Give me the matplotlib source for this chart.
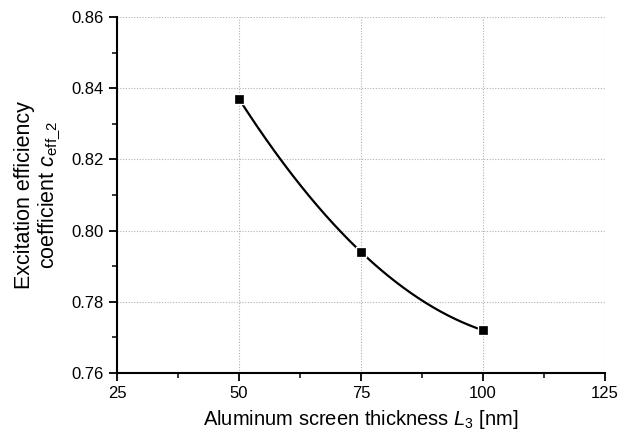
import numpy as np
import matplotlib
matplotlib.use("Agg")
import matplotlib.pyplot as plt
from matplotlib.ticker import MultipleLocator

plt.rcParams['font.family'] = ['Liberation Sans', 'DejaVu Sans']
plt.rcParams['mathtext.fontset'] = 'custom'
plt.rcParams['mathtext.rm'] = 'Liberation Sans'
plt.rcParams['mathtext.it'] = 'Liberation Sans:italic'

thickness = [50, 75, 100]
coeff = [0.837, 0.794, 0.772]
x_ticks = [25, 50, 75, 100, 125]
y_ticks = [0.76, 0.78, 0.80, 0.82, 0.84, 0.86]

fig = plt.figure(figsize=(6.21, 4.37), dpi=100)
ax = fig.add_axes([0.1884, 0.1465, 0.7858, 0.8145])

# smooth curve through the points (quadratic interpolation)
p = np.polyfit(thickness, coeff, 2)
xs = np.linspace(thickness[0], thickness[-1], 300)
ax.plot(xs, np.polyval(p, xs), color='black', lw=1.6, zorder=3)
ax.plot(thickness, coeff, 's', color='black', ms=6, mec='white', mew=2.4, zorder=4)
ax.plot(thickness, coeff, 's', color='black', ms=5.5, mec='black', mew=0.5, zorder=5)

ax.set_xlim(25, 125)
ax.set_ylim(0.76, 0.86)
ax.set_xticks(x_ticks)
ax.set_yticks(y_ticks)
ax.set_yticklabels([f"{v:.2f}" for v in y_ticks])
ax.xaxis.set_minor_locator(MultipleLocator(12.5))
ax.yaxis.set_minor_locator(MultipleLocator(0.01))

ax.grid(True, which='major', linestyle=(0, (1, 1.5)), color='#b0b0b0', lw=0.8)
for s in ['top', 'right']:
    ax.spines[s].set_visible(False)
for s in ['left', 'bottom']:
    ax.spines[s].set_linewidth(1.5)

ax.tick_params(which='major', direction='out', length=6, width=1.3, labelsize=12, colors='black')
ax.tick_params(which='minor', direction='out', length=3.5, width=1.1)

ax.set_xlabel(r"Aluminum screen thickness $\mathit{L}_3$ [nm]", fontsize=14.5, labelpad=5)
ax.set_ylabel("Excitation efficiency\n" + r"coefficient $\mathit{c}_{\mathrm{eff\_2}}$", fontsize=15.5, labelpad=6, linespacing=1.1)

fig.savefig("out.png", dpi=100)
